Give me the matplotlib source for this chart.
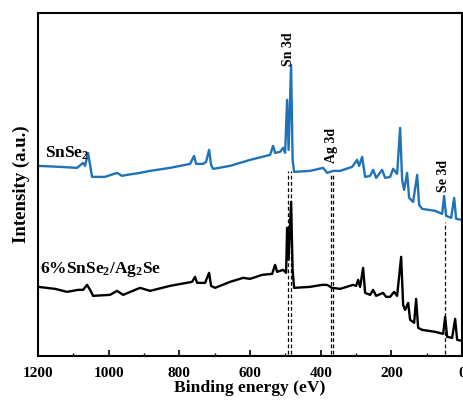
import numpy as np
import matplotlib.pyplot as plt
from matplotlib.ticker import MultipleLocator

plt.rcParams['font.family'] = ['Liberation Serif', 'DejaVu Serif']
plt.rcParams['font.weight'] = 'bold'
plt.rcParams['mathtext.fontset'] = 'custom'
plt.rcParams['mathtext.rm'] = 'Liberation Serif:bold'
plt.rcParams['mathtext.it'] = 'Liberation Serif:bold'
plt.rcParams['mathtext.bf'] = 'Liberation Serif:bold'

# SnSe2 survey spectrum (binding energy eV, intensity a.u.)
be_snse2 = [1200, 1137.7, 1089.6, 1072.6, 1067, 1058.5, 1052.8, 1047.2, 1010.4, 976.4,
            962.3, 948.1, 911.3, 883.0, 826.4, 769.8, 758.5, 752.8, 733.0, 724.5,
            716.0, 710.4, 704.7, 656.6, 600.0, 543.4, 534.9, 529.2, 515.1, 506.6,
            500.9, 495.3, 491, 484, 479.7, 475.5, 430.2, 393.4, 382.1, 365.1,
            345.3, 311.3, 297.2, 291.5, 283.0, 274.5, 260.4, 251.9, 243.4, 226.4,
            217.9, 203.8, 195.3, 184.0, 175.5, 169.8, 164.2, 155.7, 150.0, 138.7,
            127.3, 121.7, 113.2, 76.4, 56.6, 51.0, 45.3, 31.1, 22.6, 17.0, 0]
int_snse2 = [190, 189, 188, 193, 190, 203, 191, 179, 179, 183,
             180, 181, 183, 185, 188, 192, 200, 192, 192, 194,
             206, 191, 187, 190, 196, 201, 210, 203, 204, 208,
             203, 256, 206, 291, 196, 184, 185, 188, 183, 185,
             185, 189, 196, 190, 199, 179, 180, 186, 178, 186,
             178, 179, 187, 182, 228, 176, 166, 183, 158, 154,
             181, 151, 147, 145, 142, 160, 140, 138, 158, 137, 136]

# 6% SnSe2/Ag2Se survey spectrum
be_comp = [1200, 1151.9, 1117.9, 1086.8, 1072.6, 1061.3, 1052.8, 1044.3, 996.2, 976.4,
           959.4, 911.3, 883.0, 826.4, 764.2, 755.7, 750.0, 727.4, 716.0, 710.4,
           699.1, 656.6, 619.8, 600.0, 566.0, 537.7, 529.2, 523.6, 506.6, 498.1,
           495.3, 491, 484, 479.7, 475.5, 430.2, 396.2, 382.1, 368.0, 345.3,
           308.5, 300.0, 294.3, 288.7, 280.2, 274.5, 260.4, 251.9, 243.4, 223.6,
           215.1, 203.8, 192.5, 184.0, 172.6, 167.0, 161.3, 152.8, 147.2, 135.8,
           130.2, 124.5, 113.2, 76.4, 53.8, 48.1, 42.5, 28.3, 19.8, 14.2, 0]
int_comp = [69, 67, 64, 66, 66, 71, 66, 60, 61, 65,
            61, 68, 65, 70, 74, 79, 73, 73, 83, 70,
            68, 74, 78, 77, 81, 82, 91, 84, 86, 83,
            128, 96, 154, 86, 68, 69, 71, 71, 68, 67,
            71, 70, 76, 69, 88, 63, 61, 66, 60, 63,
            59, 59, 64, 60, 99, 51, 46, 53, 36, 33,
            57, 28, 26, 24, 22, 39, 19, 18, 37, 16, 15]

# peak markers
peak_names = ['Sn 3d', 'Ag 3d', 'Se 3d']
peak_lines = [[492.5, 484.0], [370.8, 365.1], [48.1]]
line_tops = [185, 183, 134]

fig = plt.figure(figsize=(4.64, 4.03), dpi=100)
ax = fig.add_axes([0.082, 0.117, 0.914, 0.851])

ax.plot(be_snse2, int_snse2, color='#1f72b8', lw=1.7)
ax.plot(be_comp, int_comp, color='black', lw=1.7)

for xs, top in zip(peak_lines, line_tops):
    ax.vlines(xs, 2, top, colors='black', linestyles=(0, (3, 2)), lw=0.9)

ax.text(492, 307, 'Sn 3d', rotation=90, ha='center', va='center', fontsize=10)
ax.text(371, 210, 'Ag 3d', rotation=90, ha='center', va='center', fontsize=10)
ax.text(54, 180, 'Se 3d', rotation=90, ha='center', va='center', fontsize=10)

ax.text(1180, 203, 'SnSe$_2$', fontsize=12.5, va='center')
ax.text(1195, 86, '6%SnSe$_2$/Ag$_2$Se', fontsize=12.5, va='center')

ax.set_xlim(1200, 0)
ax.set_ylim(0, 343)
ax.xaxis.set_major_locator(MultipleLocator(200))
ax.xaxis.set_minor_locator(MultipleLocator(100))
ax.tick_params(axis='x', which='major', direction='in', length=4, width=1.2, labelsize=11, pad=8)
ax.tick_params(axis='x', which='minor', direction='in', length=2.5, width=1.0)
ax.set_yticks([])
for s in ax.spines.values():
    s.set_linewidth(1.5)

ax.set_xlabel('Binding energy (eV)', fontsize=12.6, fontweight='bold', labelpad=0)
ax.set_ylabel('Intensity (a.u.)', fontsize=13.5, fontweight='bold', labelpad=6)

fig.savefig('out.png', dpi=100)
